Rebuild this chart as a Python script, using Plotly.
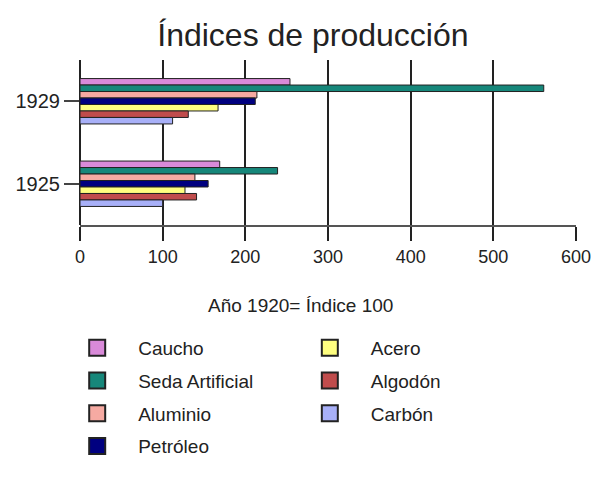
import plotly.graph_objects as go

years = ["1929", "1925"]
series = ["Caucho", "Seda Artificial", "Aluminio", "Petróleo", "Acero", "Algodón", "Carbón"]
caucho = [254, 169]
seda = [561, 239]
aluminio = [214, 139]
petroleo = [212, 155]
acero = [167, 127]
algodon = [131, 141]
carbon = [112, 100]
values = [caucho, seda, aluminio, petroleo, acero, algodon, carbon]
colors = ["#d98ad9", "#16877a", "#f6aaa2", "#000080", "#ffff80", "#c04c4c", "#a8b0f8"]
x_ticks = [0, 100, 200, 300, 400, 500, 600]

fig = go.Figure()

for name, vals, col in zip(series, values, colors):
    fig.add_trace(go.Bar(
        y=years, x=vals, name=name, orientation="h",
        marker=dict(color=col, line=dict(color="#222", width=1)),
        showlegend=False,
    ))

# legend entries (bigger swatches than bar legend symbols)
for i, (name, col) in enumerate(zip(series, colors)):
    fig.add_trace(go.Scatter(
        x=[None], y=[None], mode="markers", name=name,
        marker=dict(symbol="square", size=16, color=col, line=dict(color="#222", width=2)),
        legend="legend" if i < 4 else "legend2",
        legendgroup=name,
    ))

leg_style = dict(yanchor="top", y=-0.63, xanchor="left", bgcolor="rgba(0,0,0,0)",
                 font=dict(size=19), tracegroupgap=5, itemwidth=72)

fig.update_layout(
    width=599, height=480,
    margin=dict(l=72, r=31, t=52, b=263),
    paper_bgcolor="white", plot_bgcolor="white",
    font=dict(family="Liberation Sans, Arial, sans-serif", size=18, color="#222"),
    title=dict(text="Índices de producción", x=0.509, xanchor="center", y=0.944, yanchor="middle",
               font=dict(size=32, color="#222")),
    barmode="group", bargap=0.45, bargroupgap=0,
    legend=dict(x=-0.048, **leg_style),
    legend2=dict(x=0.421, **leg_style),
    showlegend=True,
    annotations=[dict(text="Año 1920= Índice 100", xref="paper", yref="paper",
                      x=0.444, y=-0.485, xanchor="center", yanchor="middle",
                      showarrow=False, font=dict(size=19))],
)

fig.update_xaxes(
    range=[0, 600], tickvals=x_ticks, ticktext=[str(v) for v in x_ticks],
    showgrid=True, gridcolor="#222", gridwidth=1.5,
    showline=True, linecolor="#555", linewidth=2,
    ticks="outside", ticklen=14, tickcolor="#222", tickwidth=1.5,
    zeroline=True, zerolinecolor="#222", zerolinewidth=1.5,
    tickfont=dict(size=18), automargin=False,
)
fig.update_yaxes(
    autorange="reversed", type="category",
    showline=False, showgrid=False,
    ticks="outside", ticklen=15, tickcolor="#444", tickwidth=1.5,
    tickfont=dict(size=20), automargin=False,
)

fig.write_html("out.html")
